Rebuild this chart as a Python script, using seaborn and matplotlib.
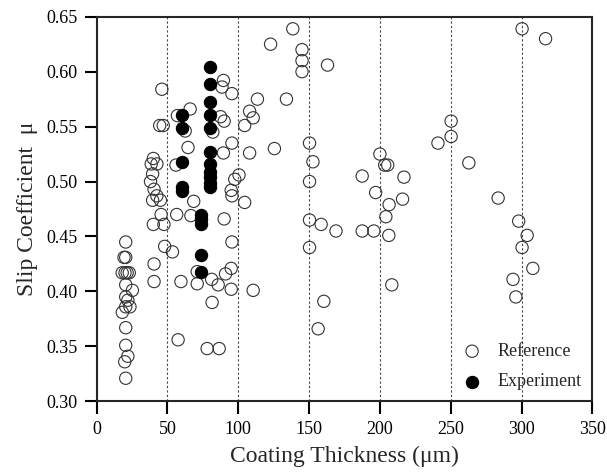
import numpy as np
import pandas as pd
import matplotlib
matplotlib.use("Agg")
import matplotlib.pyplot as plt
import seaborn as sns

# Reference data (open circles)
ref_x = [20.5, 19.3, 20.5, 18.0, 20.0, 21.5, 23.0, 20.5, 25.2, 20.5, 22.0, 20.5, 23.5, 18.1,
         20.5, 20.5, 22.0, 19.8, 20.5,
         46.0, 44.5, 47.0, 40.0, 38.5, 42.5, 39.5, 38.0, 40.5, 42.5, 39.5, 45.0, 45.5, 40.0,
         47.5, 48.0, 53.5, 40.5, 40.5,
         57.0, 66.0, 62.5, 64.5, 56.0, 56.5, 66.5, 68.5, 59.5, 57.5, 71.0, 71.0,
         89.5, 88.5, 95.5, 87.5, 90.0, 82.0, 95.5, 89.5, 100.5, 97.5, 95.0, 95.5, 90.0, 95.5,
         95.0, 91.0, 81.2, 85.8, 95.0, 81.5, 78.0, 86.5,
         113.5, 108.0, 110.5, 104.5, 108.0, 104.5, 110.5, 122.8, 125.5,
         138.5, 145.0, 145.0, 145.0, 163.0, 134.0, 150.3, 152.7, 150.3, 150.3, 158.5, 169.0,
         150.3, 160.4, 156.4,
         200.0, 203.4, 205.5, 187.5, 217.0, 197.0, 216.0, 206.5, 204.2, 187.5, 195.7, 206.3, 208.4,
         241.0, 250.3, 250.3, 262.8, 283.5, 300.4, 317.0, 298.0, 304.0, 300.4, 308.0, 294.0, 296.0]
ref_y = [0.445, 0.431, 0.431, 0.417, 0.417, 0.417, 0.417, 0.406, 0.401, 0.395, 0.392, 0.386, 0.386, 0.381,
         0.367, 0.351, 0.341, 0.336, 0.321,
         0.584, 0.551, 0.551, 0.521, 0.516, 0.516, 0.507, 0.500, 0.493, 0.487, 0.483, 0.483, 0.470, 0.461,
         0.461, 0.441, 0.436, 0.425, 0.409,
         0.560, 0.566, 0.546, 0.531, 0.515, 0.470, 0.469, 0.482, 0.409, 0.356, 0.418, 0.407,
         0.592, 0.586, 0.580, 0.559, 0.555, 0.545, 0.535, 0.526, 0.506, 0.502, 0.492, 0.487, 0.466, 0.445,
         0.421, 0.416, 0.411, 0.406, 0.402, 0.390, 0.348, 0.348,
         0.575, 0.564, 0.558, 0.551, 0.526, 0.481, 0.401, 0.625, 0.530,
         0.639, 0.620, 0.610, 0.600, 0.606, 0.575, 0.535, 0.518, 0.500, 0.465, 0.461, 0.455,
         0.440, 0.391, 0.366,
         0.525, 0.515, 0.515, 0.505, 0.504, 0.490, 0.484, 0.479, 0.468, 0.455, 0.455, 0.451, 0.406,
         0.535, 0.555, 0.541, 0.517, 0.485, 0.639, 0.630, 0.464, 0.451, 0.440, 0.421, 0.411, 0.395]

# Experiment data (filled circles)
exp_x = [60, 60, 60, 60, 60,
         74, 74, 74, 74, 74,
         80, 80, 80, 80, 80, 80, 80, 80, 80, 80, 80]
exp_y = [0.561, 0.549, 0.518, 0.495, 0.491,
         0.470, 0.466, 0.461, 0.433, 0.418,
         0.604, 0.589, 0.572, 0.561, 0.549, 0.527, 0.516, 0.509, 0.504, 0.499, 0.495]

x_ticks = [0, 50, 100, 150, 200, 250, 300, 350]
y_ticks = [0.30, 0.35, 0.40, 0.45, 0.50, 0.55, 0.60, 0.65]

ref = pd.DataFrame({"thickness": ref_x, "mu": ref_y})
exp = pd.DataFrame({"thickness": exp_x, "mu": exp_y})

sns.set_style("ticks")
plt.rcParams["font.family"] = ["Liberation Serif", "DejaVu Serif"]

fig, ax = plt.subplots(figsize=(6.07, 4.75), dpi=100)
fig.subplots_adjust(left=0.1593, right=0.9758, top=0.9648, bottom=0.1551)

# dotted vertical guides
for xv in x_ticks[1:-1]:
    ax.axvline(xv, color="#444444", lw=0.8, linestyle=(0, (2, 2)), zorder=0)

sns.scatterplot(data=ref, x="thickness", y="mu", ax=ax, s=78, marker="o",
                facecolor="none", edgecolor="#333333", linewidth=0.8,
                label="Reference", zorder=2)
sns.scatterplot(data=exp, x="thickness", y="mu", ax=ax, s=78, marker="o",
                color="black", edgecolor="black", linewidth=0.8,
                label="Experiment", zorder=3)

ax.set_xlim(0, 350)
ax.set_ylim(0.30, 0.65)
ax.set_xticks(x_ticks)
ax.set_yticks(y_ticks)
ax.set_yticklabels([f"{v:.2f}" for v in y_ticks])

for sp in ax.spines.values():
    sp.set_linewidth(1.5)
    sp.set_visible(True)
ax.tick_params(direction="out", length=9, width=1.5, labelsize=13, pad=5, colors="black")

ax.set_xlabel("Coating Thickness (μm)", fontsize=17, labelpad=6)
ax.set_ylabel("Slip Coefficient  μ", fontsize=17, labelpad=6)

ax.legend(loc="lower right", bbox_to_anchor=(1.0, 0.0), frameon=False, fontsize=13,
          handletextpad=0.4, labelspacing=0.75, borderaxespad=0.2)

fig.savefig("out.png", dpi=100)
